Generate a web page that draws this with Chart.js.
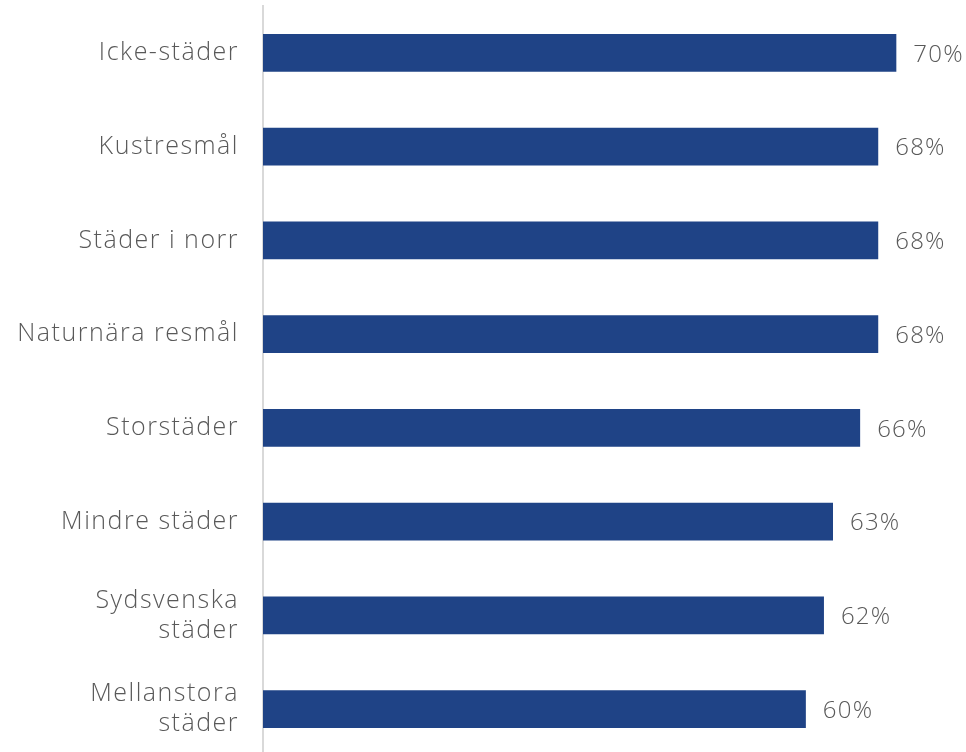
<!DOCTYPE html>
<html>
<head>
<meta charset="utf-8">
<title>Resmål</title>
<script src="https://cdn.jsdelivr.net/npm/chart.js@4"></script>
<style>
  html, body { margin: 0; padding: 0; background: #ffffff; overflow: hidden; }
  #wrap { position: relative; width: 966px; height: 756px; }
</style>
</head>
<body>
<div id="wrap"><canvas id="chart"></canvas></div>
<script>
// Categories (multi-line labels as arrays) and shares in percent
const categories = [
  'Icke-städer',
  'Kustresmål',
  'Städer i norr',
  'Naturnära resmål',
  'Storstäder',
  'Mindre städer',
  ['Sydsvenska', 'städer'],
  ['Mellanstora', 'städer']
];
const shares = [70, 68, 68, 68, 66, 63, 62, 60];

const labelFont = { family: "'Open Sans', sans-serif", size: 25, weight: 300, lineHeight: 1.2 };
const textColor = '#595959';

// Wider tracking for all canvas text
const tracking = {
  id: 'tracking',
  beforeDraw(chart) {
    chart.ctx.letterSpacing = '1.5px';
  }
};

// Draws "70%" etc. just right of each bar
const valueLabels = {
  id: 'valueLabels',
  afterDatasetsDraw(chart) {
    const ctx = chart.ctx;
    const meta = chart.getDatasetMeta(0);
    ctx.save();
    ctx.font = "300 24px 'Open Sans', sans-serif";
    ctx.letterSpacing = '1.2px';
    ctx.fillStyle = textColor;
    ctx.textAlign = 'left';
    ctx.textBaseline = 'middle';
    meta.data.forEach((bar, i) => {
      ctx.fillText(shares[i] + '%', bar.x + 17, bar.y + 2);
    });
    ctx.restore();
  }
};

const chart = new Chart(document.getElementById('chart'), {
  type: 'bar',
  data: {
    labels: categories,
    datasets: [{
      data: shares,
      backgroundColor: '#1f4386',
      barPercentage: 0.405,
      categoryPercentage: 1
    }]
  },
  options: {
    indexAxis: 'y',
    responsive: true,
    maintainAspectRatio: false,
    animation: false,
    layout: { padding: { top: 6, right: 0, bottom: 0, left: 0 } },
    plugins: {
      legend: { display: false },
      tooltip: { enabled: false }
    },
    scales: {
      x: {
        display: false,
        min: 0,
        max: 77.7
      },
      y: {
        afterFit: (scale) => {
          scale.width = 263;
          scale.paddingTop = 0;
          scale.paddingBottom = 0;
        },
        grid: { display: false, drawTicks: false },
        border: { display: true, color: '#d9d9d9', width: 2 },
        ticks: {
          color: textColor,
          font: labelFont,
          padding: 24
        }
      }
    }
  },
  plugins: [tracking, valueLabels]
});
</script>
</body>
</html>
